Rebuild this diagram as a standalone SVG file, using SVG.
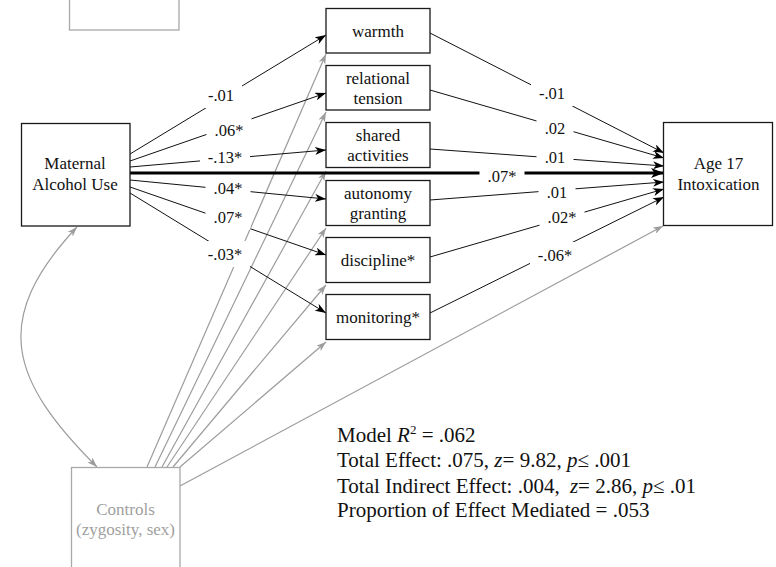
<svg xmlns="http://www.w3.org/2000/svg" width="776" height="567" viewBox="0 0 776 567">
<style>
text{font-family:"Liberation Serif","Times New Roman",serif;fill:#111}
.node{font-size:17px;text-anchor:middle}
.box{fill:#fff;stroke:#1a1a1a;stroke-width:1.3}
.gbox{fill:#fff;stroke:#a8a8a8;stroke-width:1.3}
.gtext{fill:#a0a0a0}
.bl{stroke:#111;stroke-width:1;fill:none;marker-end:url(#ah)}
.thick{stroke:#000;stroke-width:3;fill:none;marker-end:url(#ahb)}
.gl{stroke:#9c9c9c;stroke-width:1.2;fill:none;marker-end:url(#ag)}
.lbl{font-size:16.5px;text-anchor:middle}
.lbg{fill:#fff}
.stats{font-size:21px}
</style>
<defs>
<marker id="ah" viewBox="0 0 11 8" refX="11" refY="4" markerWidth="11" markerHeight="8" markerUnits="userSpaceOnUse" orient="auto"><path d="M0,0 L11,4 L0,8 L3,4 z" fill="#000"/></marker>
<marker id="ahb" viewBox="0 0 13 10" refX="13" refY="5" markerWidth="13" markerHeight="10" markerUnits="userSpaceOnUse" orient="auto"><path d="M0,0 L13,5 L0,10 L3.5,5 z" fill="#000"/></marker>
<marker id="ag" viewBox="0 0 10 7" refX="10" refY="3.5" markerWidth="10" markerHeight="7" markerUnits="userSpaceOnUse" orient="auto-start-reverse"><path d="M0,0 L10,3.5 L0,7 L2.8,3.5 z" fill="#9c9c9c"/></marker>
</defs>
<rect width="776" height="567" fill="#fff"/>

<g id="connectors">
  <path class="gl" d="M77,227 C -10,320 10,380 97,467" marker-start="url(#ag)"/>
  <line class="gl" x1="147" y1="467" x2="326" y2="54"/>
  <line class="gl" x1="155" y1="467" x2="326" y2="112"/>
  <line class="gl" x1="162" y1="467" x2="326" y2="171"/>
  <line class="gl" x1="167" y1="467" x2="326" y2="228"/>
  <line class="gl" x1="173" y1="467" x2="326" y2="285"/>
  <line class="gl" x1="180" y1="467" x2="326" y2="342"/>
  <line class="gl" x1="180" y1="486" x2="663" y2="226"/>

  <line class="bl" x1="130" y1="154" x2="326" y2="35"/>
  <line class="bl" x1="130" y1="161" x2="326" y2="93"/>
  <line class="bl" x1="130" y1="167" x2="326" y2="150"/>
  <line class="bl" x1="130" y1="180" x2="326" y2="199"/>
  <line class="bl" x1="130" y1="187" x2="326" y2="255"/>
  <line class="bl" x1="130" y1="193" x2="326" y2="313"/>
  <line class="thick" x1="130" y1="173" x2="664" y2="173"/>

  <line class="bl" x1="430" y1="33" x2="664" y2="153"/>
  <line class="bl" x1="430" y1="90" x2="664" y2="158"/>
  <line class="bl" x1="430" y1="149" x2="664" y2="166"/>
  <line class="bl" x1="430" y1="200" x2="664" y2="182"/>
  <line class="bl" x1="430" y1="257" x2="664" y2="189"/>
  <line class="bl" x1="430" y1="313" x2="664" y2="197"/>
</g>

<g id="labels">
  <rect class="lbg" x="200" y="82" width="42" height="26"/>
  <text class="lbl" x="221" y="100.5">-.01</text>
  <rect class="lbg" x="206.5" y="117" width="45" height="26"/>
  <text class="lbl" x="229" y="135.5">.06*</text>
  <rect class="lbg" x="200" y="144" width="50" height="26"/>
  <text class="lbl" x="225" y="162.5">-.13*</text>
  <rect class="lbg" x="205.5" y="175.3" width="45" height="26"/>
  <text class="lbl" x="228" y="194">.04*</text>
  <rect class="lbg" x="205.5" y="203.7" width="45" height="26"/>
  <text class="lbl" x="228" y="222.5">.07*</text>
  <rect class="lbg" x="200" y="241" width="50" height="26"/>
  <text class="lbl" x="225" y="259.5">-.03*</text>

  <rect class="lbg" x="531" y="80.3" width="42" height="26"/>
  <text class="lbl" x="552" y="99">-.01</text>
  <rect class="lbg" x="536.5" y="115.3" width="37" height="26"/>
  <text class="lbl" x="555" y="134">.02</text>
  <rect class="lbg" x="536.5" y="143.7" width="37" height="26"/>
  <text class="lbl" x="555" y="162.5">.01</text>
  <rect class="lbg" x="479.5" y="162.5" width="45" height="26"/>
  <text class="lbl" x="502" y="181.5">.07*</text>
  <rect class="lbg" x="538.5" y="178.7" width="37" height="26"/>
  <text class="lbl" x="557" y="197.5">.01</text>
  <rect class="lbg" x="539.5" y="204.3" width="45" height="26"/>
  <text class="lbl" x="562" y="223">.02*</text>
  <rect class="lbg" x="530" y="242" width="50" height="26"/>
  <text class="lbl" x="555" y="260.5">-.06*</text>
</g>

<g id="topbox">
  <rect class="gbox" x="69.5" y="-60" width="109.5" height="90"/>
</g>

<g id="maternal">
  <rect class="box" x="21.5" y="123.5" width="108.5" height="102.5"/>
  <text class="node" x="75" y="169">Maternal</text>
  <text class="node" x="75" y="190">Alcohol Use</text>
</g>

<g id="warmth">
  <rect class="box" x="326" y="8.5" width="104" height="44.5"/>
  <text class="node" x="378" y="36.5">warmth</text>
</g>
<g id="relational">
  <rect class="box" x="326" y="65.5" width="104" height="44.5"/>
  <text class="node" x="378" y="83.5">relational</text>
  <text class="node" x="378" y="103.5">tension</text>
</g>
<g id="shared">
  <rect class="box" x="326" y="122.5" width="104" height="45"/>
  <text class="node" x="378" y="141">shared</text>
  <text class="node" x="378" y="161">activities</text>
</g>
<g id="autonomy">
  <rect class="box" x="326" y="180.5" width="104" height="45"/>
  <text class="node" x="378" y="199">autonomy</text>
  <text class="node" x="378" y="219">granting</text>
</g>
<g id="discipline">
  <rect class="box" x="326" y="237.5" width="104" height="45"/>
  <text class="node" x="378" y="266">discipline*</text>
</g>
<g id="monitoring">
  <rect class="box" x="326" y="294.5" width="104" height="45"/>
  <text class="node" x="378" y="323">monitoring*</text>
</g>

<g id="age17">
  <rect class="box" x="663.5" y="122.5" width="109" height="103"/>
  <text class="node" x="718.5" y="169">Age 17</text>
  <text class="node" x="718.5" y="190">Intoxication</text>
</g>

<g id="controls">
  <rect class="gbox" x="71.5" y="467.5" width="108.5" height="110"/>
  <text class="node gtext" x="125.5" y="515">Controls</text>
  <text class="node gtext" x="125.5" y="535">(zygosity, sex)</text>
</g>

<g id="stats">
  <text class="stats" x="337" y="442">Model <tspan font-style="italic">R</tspan><tspan font-size="13" dy="-8">2</tspan><tspan dy="8"> = .062</tspan></text>
  <text class="stats" x="337" y="467">Total Effect: .075, <tspan font-style="italic">z</tspan>= 9.82, <tspan font-style="italic">p</tspan>≤ .001</text>
  <text class="stats" x="337" y="492.5">Total Indirect Effect: .004, <tspan dx="5" font-style="italic">z</tspan>= 2.86, <tspan font-style="italic">p</tspan>≤ .01</text>
  <text class="stats" x="337" y="517">Proportion of Effect Mediated = .053</text>
</g>
</svg>
